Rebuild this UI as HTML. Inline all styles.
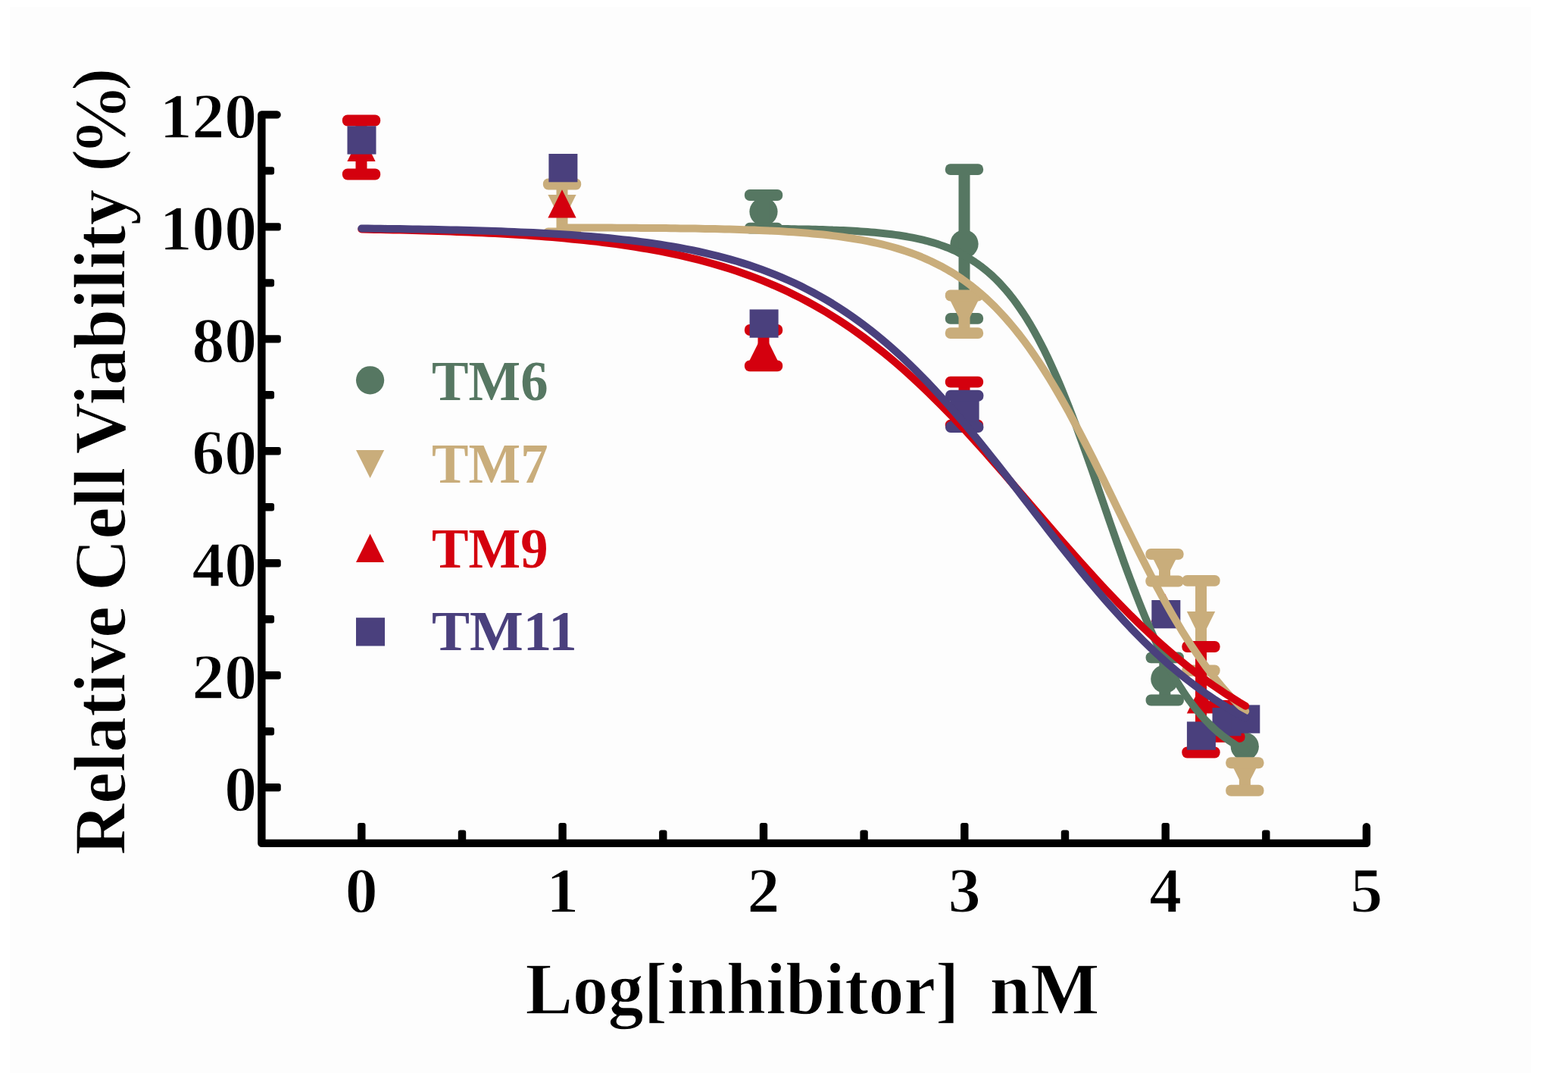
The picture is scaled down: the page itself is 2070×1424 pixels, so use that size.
<!DOCTYPE html>
<html lang="en"><head><meta charset="utf-8"><title>Relative Cell Viability vs Log[inhibitor]</title>
<style>html,body{margin:0;padding:0;background:#fff;}body{width:2070px;height:1424px;overflow:hidden;}svg{display:block;}text{font-family:"Liberation Serif","DejaVu Serif",serif;font-weight:bold;}</style></head><body>
<svg width="2070" height="1424" viewBox="0 0 2070 1424">
<rect x="0" y="0" width="2070" height="1424" fill="#ffffff"/>
<rect x="13" y="9" width="2008" height="1407" fill="#fdfdfd"/>
<g id="green-points">
<circle cx="1008.0" cy="279.3" r="18.6" fill="#567762"/>
<circle cx="1273.0" cy="322.0" r="18.6" fill="#567762"/>
<circle cx="1537.8" cy="896.0" r="18.6" fill="#567762"/>
<circle cx="1643.3" cy="985.2" r="18.6" fill="#567762"/>
<rect x="1000.5" y="257.5" width="15.0" height="43.6" fill="#567762"/><rect x="982.9" y="250.1" width="50.3" height="14.9" rx="6.8" fill="#567762"/><rect x="982.9" y="293.7" width="50.3" height="14.9" rx="6.8" fill="#567762"/>
<rect x="1265.5" y="223.6" width="15.0" height="196.7" fill="#567762"/><rect x="1247.8" y="216.2" width="50.3" height="14.9" rx="6.8" fill="#567762"/><rect x="1247.8" y="412.9" width="50.3" height="14.9" rx="6.8" fill="#567762"/>
<rect x="1530.3" y="867.9" width="15.0" height="56.2" fill="#567762"/><rect x="1512.6" y="860.4" width="50.3" height="14.9" rx="6.8" fill="#567762"/><rect x="1512.6" y="916.6" width="50.3" height="14.9" rx="6.8" fill="#567762"/>
</g>
<g id="tan-points">
<path d="M742.0,294.1L760.6,256.9H723.4Z" fill="#c9ad7b"/>
<path d="M1273.0,433.4L1291.7,396.2H1254.3Z" fill="#c9ad7b"/>
<path d="M1537.5,767.6L1556.2,730.4H1518.8Z" fill="#c9ad7b"/>
<path d="M1585.5,844.4L1604.2,807.1H1566.8Z" fill="#c9ad7b"/>
<path d="M1643.4,1043.7L1662.1,1006.4H1624.8Z" fill="#c9ad7b"/>
<rect x="734.5" y="243.0" width="15.0" height="65.0" fill="#c9ad7b"/><rect x="716.9" y="235.6" width="50.3" height="14.9" rx="6.8" fill="#c9ad7b"/><rect x="716.9" y="300.6" width="50.3" height="14.9" rx="6.8" fill="#c9ad7b"/>
<rect x="1265.5" y="390.0" width="15.0" height="49.7" fill="#c9ad7b"/><rect x="1247.8" y="382.6" width="50.3" height="14.9" rx="6.8" fill="#c9ad7b"/><rect x="1247.8" y="432.2" width="50.3" height="14.9" rx="6.8" fill="#c9ad7b"/>
<rect x="1530.0" y="731.4" width="15.0" height="35.6" fill="#c9ad7b"/><rect x="1512.3" y="723.9" width="50.3" height="14.9" rx="6.8" fill="#c9ad7b"/><rect x="1512.3" y="759.5" width="50.3" height="14.9" rx="6.8" fill="#c9ad7b"/>
<rect x="1578.0" y="766.4" width="15.0" height="118.6" fill="#c9ad7b"/><rect x="1560.3" y="758.9" width="50.3" height="14.9" rx="6.8" fill="#c9ad7b"/><rect x="1560.3" y="877.5" width="50.3" height="14.9" rx="6.8" fill="#c9ad7b"/>
<rect x="1635.9" y="1006.8" width="15.0" height="36.5" fill="#c9ad7b"/><rect x="1618.2" y="999.3" width="50.3" height="14.9" rx="6.8" fill="#c9ad7b"/><rect x="1618.2" y="1035.8" width="50.3" height="14.9" rx="6.8" fill="#c9ad7b"/>
</g>
<g id="red-points">
<path d="M477.0,175.7L495.6,213.0H458.4Z" fill="#d4000e"/>
<path d="M742.0,250.3L760.6,287.6H723.4Z" fill="#d4000e"/>
<path d="M1008.0,438.7L1026.7,475.9H989.4Z" fill="#d4000e"/>
<path d="M1273.0,514.1L1291.7,551.4H1254.3Z" fill="#d4000e"/>
<path d="M1538.0,783.4L1556.7,820.6H1519.3Z" fill="#d4000e"/>
<path d="M1585.5,904.4L1604.2,941.6H1566.8Z" fill="#d4000e"/>
<path d="M1618.5,933.4L1637.2,970.6H1599.8Z" fill="#d4000e"/>
<rect x="469.5" y="159.0" width="15.0" height="70.9" fill="#d4000e"/><rect x="451.9" y="151.6" width="50.3" height="14.9" rx="6.8" fill="#d4000e"/><rect x="451.9" y="222.5" width="50.3" height="14.9" rx="6.8" fill="#d4000e"/>
<rect x="1000.5" y="435.5" width="15.0" height="47.3" fill="#d4000e"/><rect x="982.9" y="428.1" width="50.3" height="14.9" rx="6.8" fill="#d4000e"/><rect x="982.9" y="475.4" width="50.3" height="14.9" rx="6.8" fill="#d4000e"/>
<rect x="1265.5" y="504.1" width="15.0" height="57.2" fill="#d4000e"/><rect x="1247.8" y="496.7" width="50.3" height="14.9" rx="6.8" fill="#d4000e"/><rect x="1247.8" y="553.8" width="50.3" height="14.9" rx="6.8" fill="#d4000e"/>
<rect x="1578.0" y="853.5" width="15.0" height="139.5" fill="#d4000e"/><rect x="1560.3" y="846.0" width="50.3" height="14.9" rx="6.8" fill="#d4000e"/><rect x="1560.3" y="985.5" width="50.3" height="14.9" rx="6.8" fill="#d4000e"/>
<rect x="1611.0" y="931.5" width="15.0" height="40.9" fill="#d4000e"/><rect x="1593.3" y="924.0" width="50.3" height="14.9" rx="6.8" fill="#d4000e"/><rect x="1593.3" y="964.9" width="50.3" height="14.9" rx="6.8" fill="#d4000e"/>
</g>
<g id="purple-points">
<rect x="458.5" y="166.3" width="38.0" height="37.3" fill="#4a407d"/>
<rect x="724.4" y="203.0" width="38.0" height="37.3" fill="#4a407d"/>
<rect x="989.6" y="408.4" width="38.0" height="37.3" fill="#4a407d"/>
<rect x="1254.6" y="524.4" width="38.0" height="37.3" fill="#4a407d"/>
<rect x="1520.3" y="792.0" width="38.0" height="37.3" fill="#4a407d"/>
<rect x="1566.9" y="952.4" width="38.0" height="37.3" fill="#4a407d"/>
<rect x="1600.5" y="934.0" width="38.0" height="37.3" fill="#4a407d"/>
<rect x="1625.3" y="930.4" width="38.0" height="37.3" fill="#4a407d"/>
<rect x="1265.8" y="522.2" width="15.0" height="41.5" fill="#4a407d"/><rect x="1248.1" y="514.8" width="50.3" height="14.9" rx="6.8" fill="#4a407d"/><rect x="1248.1" y="556.2" width="50.3" height="14.9" rx="6.8" fill="#4a407d"/>
</g>
<path id="green-fit" d="M1008.0,301.8 L1012.6,301.8 L1017.1,301.9 L1021.7,301.9 L1026.3,302.0 L1030.9,302.0 L1035.4,302.1 L1040.0,302.1 L1044.6,302.2 L1049.2,302.3 L1053.8,302.4 L1058.3,302.4 L1062.9,302.5 L1067.5,302.6 L1072.1,302.7 L1076.6,302.8 L1081.2,303.0 L1085.8,303.1 L1090.4,303.2 L1095.0,303.4 L1099.5,303.6 L1104.1,303.7 L1108.7,303.9 L1113.3,304.1 L1117.8,304.3 L1122.4,304.6 L1127.0,304.8 L1131.6,305.1 L1136.2,305.4 L1140.7,305.7 L1145.3,306.1 L1149.9,306.4 L1154.5,306.8 L1159.0,307.2 L1163.6,307.7 L1168.2,308.2 L1172.8,308.7 L1177.4,309.3 L1181.9,309.9 L1186.5,310.5 L1191.1,311.2 L1195.7,312.0 L1200.2,312.8 L1204.8,313.7 L1209.4,314.6 L1214.0,315.6 L1218.5,316.7 L1223.1,317.8 L1227.7,319.1 L1232.3,320.4 L1236.9,321.8 L1241.4,323.4 L1246.0,325.0 L1250.6,326.7 L1255.2,328.6 L1259.7,330.6 L1264.3,332.8 L1268.9,335.1 L1273.5,337.5 L1278.1,340.2 L1282.6,343.0 L1287.2,346.0 L1291.8,349.2 L1296.4,352.6 L1300.9,356.2 L1305.5,360.0 L1310.1,364.1 L1314.7,368.5 L1319.3,373.1 L1323.8,378.1 L1328.4,383.3 L1333.0,388.8 L1337.6,394.6 L1342.1,400.8 L1346.7,407.3 L1351.3,414.1 L1355.9,421.3 L1360.5,428.9 L1365.0,436.8 L1369.6,445.1 L1374.2,453.8 L1378.8,462.8 L1383.3,472.2 L1387.9,482.1 L1392.5,492.2 L1397.1,502.8 L1401.7,513.6 L1406.2,524.8 L1410.8,536.4 L1415.4,548.2 L1420.0,560.3 L1424.5,572.7 L1429.1,585.3 L1433.7,598.1 L1438.3,611.1 L1442.9,624.2 L1447.4,637.4 L1452.0,650.6 L1456.6,664.0 L1461.2,677.3 L1465.7,690.5 L1470.3,703.7 L1474.9,716.8 L1479.5,729.7 L1484.0,742.5 L1488.6,755.0 L1493.2,767.3 L1497.8,779.4 L1502.4,791.2 L1506.9,802.6 L1511.5,813.8 L1516.1,824.6 L1520.7,835.0 L1525.2,845.1 L1529.8,854.9 L1534.4,864.2 L1539.0,873.2 L1543.6,881.8 L1548.1,890.0 L1552.7,897.9 L1557.3,905.3 L1561.9,912.5 L1566.4,919.2 L1571.0,925.6 L1575.6,931.7 L1580.2,937.5 L1584.8,942.9 L1589.3,948.1 L1593.9,952.9 L1598.5,957.5 L1603.1,961.8 L1607.6,965.9 L1612.2,969.7 L1616.8,973.2 L1621.4,976.6 L1626.0,979.7 L1630.5,982.7 L1635.1,985.5 L1639.7,988.0 L1644.3,990.5" stroke="#567762" stroke-width="10.0" fill="none" stroke-linecap="round" stroke-linejoin="round"/>
<path id="tan-fit" d="M742.6,300.4 L749.1,300.4 L755.6,300.4 L762.1,300.5 L768.6,300.5 L775.1,300.5 L781.6,300.5 L788.0,300.5 L794.5,300.6 L801.0,300.6 L807.5,300.6 L814.0,300.7 L820.5,300.7 L827.0,300.7 L833.5,300.8 L839.9,300.8 L846.4,300.9 L852.9,300.9 L859.4,301.0 L865.9,301.0 L872.4,301.1 L878.9,301.1 L885.3,301.2 L891.8,301.3 L898.3,301.4 L904.8,301.5 L911.3,301.5 L917.8,301.6 L924.3,301.8 L930.7,301.9 L937.2,302.0 L943.7,302.1 L950.2,302.3 L956.7,302.4 L963.2,302.6 L969.7,302.8 L976.2,303.0 L982.6,303.2 L989.1,303.4 L995.6,303.6 L1002.1,303.9 L1008.6,304.2 L1015.1,304.5 L1021.6,304.8 L1028.0,305.1 L1034.5,305.5 L1041.0,305.9 L1047.5,306.3 L1054.0,306.8 L1060.5,307.3 L1067.0,307.8 L1073.5,308.4 L1079.9,309.0 L1086.4,309.6 L1092.9,310.3 L1099.4,311.1 L1105.9,311.9 L1112.4,312.8 L1118.9,313.7 L1125.3,314.7 L1131.8,315.8 L1138.3,316.9 L1144.8,318.2 L1151.3,319.5 L1157.8,320.9 L1164.3,322.4 L1170.7,324.0 L1177.2,325.8 L1183.7,327.6 L1190.2,329.6 L1196.7,331.7 L1203.2,334.0 L1209.7,336.4 L1216.2,339.0 L1222.6,341.8 L1229.1,344.7 L1235.6,347.9 L1242.1,351.2 L1248.6,354.8 L1255.1,358.6 L1261.6,362.6 L1268.0,366.9 L1274.5,371.5 L1281.0,376.3 L1287.5,381.4 L1294.0,386.8 L1300.5,392.5 L1307.0,398.6 L1313.5,404.9 L1319.9,411.6 L1326.4,418.7 L1332.9,426.1 L1339.4,433.9 L1345.9,442.0 L1352.4,450.5 L1358.9,459.4 L1365.3,468.6 L1371.8,478.3 L1378.3,488.3 L1384.8,498.6 L1391.3,509.3 L1397.8,520.4 L1404.3,531.7 L1410.8,543.4 L1417.2,555.4 L1423.7,567.6 L1430.2,580.1 L1436.7,592.8 L1443.2,605.6 L1449.7,618.7 L1456.2,631.8 L1462.6,645.0 L1469.1,658.3 L1475.6,671.7 L1482.1,685.0 L1488.6,698.2 L1495.1,711.4 L1501.6,724.4 L1508.0,737.3 L1514.5,750.0 L1521.0,762.5 L1527.5,774.8 L1534.0,786.8 L1540.5,798.5 L1547.0,810.0 L1553.5,821.0 L1559.9,831.8 L1566.4,842.2 L1572.9,852.3 L1579.4,861.9 L1585.9,871.2 L1592.4,880.2 L1598.9,888.7 L1605.3,896.9 L1611.8,904.8 L1618.3,912.2 L1624.8,919.3 L1631.3,926.1 L1637.8,932.5 L1644.3,938.6" stroke="#c9ad7b" stroke-width="10.0" fill="none" stroke-linecap="round" stroke-linejoin="round"/>
<path id="red-fit" d="M477.3,302.6 L485.7,302.7 L494.1,302.9 L502.5,303.0 L510.9,303.2 L519.3,303.4 L527.7,303.6 L536.1,303.8 L544.5,304.0 L552.9,304.2 L561.3,304.5 L569.6,304.7 L578.0,305.0 L586.4,305.3 L594.8,305.6 L603.2,305.9 L611.6,306.2 L620.0,306.6 L628.4,306.9 L636.8,307.3 L645.2,307.7 L653.6,308.1 L662.0,308.6 L670.4,309.1 L678.8,309.5 L687.2,310.1 L695.6,310.6 L704.0,311.2 L712.4,311.8 L720.8,312.5 L729.2,313.1 L737.6,313.8 L746.0,314.6 L754.3,315.4 L762.7,316.2 L771.1,317.1 L779.5,318.0 L787.9,318.9 L796.3,320.0 L804.7,321.0 L813.1,322.1 L821.5,323.3 L829.9,324.5 L838.3,325.8 L846.7,327.2 L855.1,328.6 L863.5,330.1 L871.9,331.7 L880.3,333.4 L888.7,335.1 L897.1,336.9 L905.5,338.8 L913.9,340.8 L922.3,342.9 L930.7,345.1 L939.0,347.5 L947.4,349.9 L955.8,352.4 L964.2,355.0 L972.6,357.8 L981.0,360.7 L989.4,363.7 L997.8,366.9 L1006.2,370.2 L1014.6,373.6 L1023.0,377.2 L1031.4,380.9 L1039.8,384.8 L1048.2,388.9 L1056.6,393.1 L1065.0,397.5 L1073.4,402.1 L1081.8,406.9 L1090.2,411.8 L1098.6,416.9 L1107.0,422.2 L1115.4,427.7 L1123.7,433.4 L1132.1,439.3 L1140.5,445.4 L1148.9,451.7 L1157.3,458.2 L1165.7,464.8 L1174.1,471.7 L1182.5,478.8 L1190.9,486.1 L1199.3,493.6 L1207.7,501.2 L1216.1,509.1 L1224.5,517.1 L1232.9,525.3 L1241.3,533.7 L1249.7,542.2 L1258.1,550.9 L1266.5,559.7 L1274.9,568.7 L1283.3,577.9 L1291.7,587.1 L1300.1,596.4 L1308.4,605.9 L1316.8,615.4 L1325.2,625.0 L1333.6,634.7 L1342.0,644.4 L1350.4,654.2 L1358.8,663.9 L1367.2,673.7 L1375.6,683.5 L1384.0,693.3 L1392.4,703.0 L1400.8,712.7 L1409.2,722.3 L1417.6,731.8 L1426.0,741.3 L1434.4,750.7 L1442.8,759.9 L1451.2,769.1 L1459.6,778.1 L1468.0,786.9 L1476.4,795.7 L1484.8,804.2 L1493.1,812.7 L1501.5,820.9 L1509.9,829.0 L1518.3,836.8 L1526.7,844.5 L1535.1,852.0 L1543.5,859.3 L1551.9,866.5 L1560.3,873.4 L1568.7,880.1 L1577.1,886.6 L1585.5,892.9 L1593.9,899.1 L1602.3,905.0 L1610.7,910.7 L1619.1,916.3 L1627.5,921.6 L1635.9,926.8 L1644.3,931.7" stroke="#d4000e" stroke-width="10.0" fill="none" stroke-linecap="round" stroke-linejoin="round"/>
<path id="purple-fit" d="M477.3,301.5 L485.7,301.6 L494.1,301.7 L502.5,301.8 L510.9,301.9 L519.3,302.0 L527.7,302.1 L536.1,302.3 L544.5,302.4 L552.9,302.5 L561.3,302.7 L569.6,302.8 L578.0,303.0 L586.4,303.2 L594.8,303.4 L603.2,303.6 L611.6,303.8 L620.0,304.0 L628.4,304.2 L636.8,304.5 L645.2,304.8 L653.6,305.0 L662.0,305.3 L670.4,305.7 L678.8,306.0 L687.2,306.4 L695.6,306.7 L704.0,307.1 L712.4,307.6 L720.8,308.0 L729.2,308.5 L737.6,309.0 L746.0,309.5 L754.3,310.1 L762.7,310.7 L771.1,311.4 L779.5,312.0 L787.9,312.8 L796.3,313.5 L804.7,314.3 L813.1,315.2 L821.5,316.1 L829.9,317.0 L838.3,318.0 L846.7,319.1 L855.1,320.2 L863.5,321.4 L871.9,322.7 L880.3,324.1 L888.7,325.5 L897.1,327.0 L905.5,328.6 L913.9,330.2 L922.3,332.0 L930.7,333.9 L939.0,335.8 L947.4,337.9 L955.8,340.1 L964.2,342.4 L972.6,344.8 L981.0,347.4 L989.4,350.1 L997.8,352.9 L1006.2,355.9 L1014.6,359.1 L1023.0,362.4 L1031.4,365.9 L1039.8,369.5 L1048.2,373.3 L1056.6,377.3 L1065.0,381.6 L1073.4,386.0 L1081.8,390.6 L1090.2,395.4 L1098.6,400.4 L1107.0,405.7 L1115.4,411.2 L1123.7,416.9 L1132.1,422.9 L1140.5,429.1 L1148.9,435.5 L1157.3,442.2 L1165.7,449.1 L1174.1,456.3 L1182.5,463.8 L1190.9,471.4 L1199.3,479.4 L1207.7,487.5 L1216.1,496.0 L1224.5,504.6 L1232.9,513.5 L1241.3,522.6 L1249.7,531.9 L1258.1,541.4 L1266.5,551.2 L1274.9,561.1 L1283.3,571.2 L1291.7,581.4 L1300.1,591.8 L1308.4,602.3 L1316.8,612.9 L1325.2,623.6 L1333.6,634.4 L1342.0,645.2 L1350.4,656.1 L1358.8,667.0 L1367.2,677.9 L1375.6,688.8 L1384.0,699.6 L1392.4,710.4 L1400.8,721.1 L1409.2,731.7 L1417.6,742.2 L1426.0,752.5 L1434.4,762.8 L1442.8,772.8 L1451.2,782.7 L1459.6,792.4 L1468.0,801.9 L1476.4,811.2 L1484.8,820.3 L1493.1,829.2 L1501.5,837.8 L1509.9,846.2 L1518.3,854.4 L1526.7,862.3 L1535.1,870.0 L1543.5,877.4 L1551.9,884.5 L1560.3,891.5 L1568.7,898.1 L1577.1,904.5 L1585.5,910.7 L1593.9,916.7 L1602.3,922.4 L1610.7,927.8 L1619.1,933.1 L1627.5,938.1 L1635.9,942.9 L1644.3,947.5" stroke="#4a407d" stroke-width="10.0" fill="none" stroke-linecap="round" stroke-linejoin="round"/>
<g id="axes" stroke="#000" stroke-width="10.4" fill="none" stroke-linecap="round" stroke-linejoin="round">
<path d="M365.6,151.4H345.4V1112.9H1804.0V1091.3"/>
</g><g id="ticks" fill="#000">
<rect x="345.4" y="1034.0" width="25.4" height="10.4" rx="3.0"/>
<rect x="345.4" y="886.0" width="25.4" height="10.4" rx="3.0"/>
<rect x="345.4" y="738.1" width="25.4" height="10.4" rx="3.0"/>
<rect x="345.4" y="590.1" width="25.4" height="10.4" rx="3.0"/>
<rect x="345.4" y="442.2" width="25.4" height="10.4" rx="3.0"/>
<rect x="345.4" y="294.2" width="25.4" height="10.4" rx="3.0"/>
<rect x="345.4" y="960.0" width="16.7" height="10.4" rx="3.0"/>
<rect x="345.4" y="812.1" width="16.7" height="10.4" rx="3.0"/>
<rect x="345.4" y="664.1" width="16.7" height="10.4" rx="3.0"/>
<rect x="345.4" y="516.1" width="16.7" height="10.4" rx="3.0"/>
<rect x="345.4" y="368.2" width="16.7" height="10.4" rx="3.0"/>
<rect x="345.4" y="220.2" width="16.7" height="10.4" rx="3.0"/>
<rect x="472.1" y="1086.0" width="10.4" height="26.9" rx="3.0"/>
<rect x="737.4" y="1086.0" width="10.4" height="26.9" rx="3.0"/>
<rect x="1002.8" y="1086.0" width="10.4" height="26.9" rx="3.0"/>
<rect x="1268.1" y="1086.0" width="10.4" height="26.9" rx="3.0"/>
<rect x="1533.5" y="1086.0" width="10.4" height="26.9" rx="3.0"/>
<rect x="604.8" y="1095.6" width="10.4" height="17.3" rx="3.0"/>
<rect x="870.1" y="1095.6" width="10.4" height="17.3" rx="3.0"/>
<rect x="1135.4" y="1095.6" width="10.4" height="17.3" rx="3.0"/>
<rect x="1400.8" y="1095.6" width="10.4" height="17.3" rx="3.0"/>
<rect x="1666.1" y="1095.6" width="10.4" height="17.3" rx="3.0"/>
</g>
<g id="y-tick-labels">
<text transform="translate(339.2,1070.0) scale(1.0038,1.0000)" font-size="85.4" text-anchor="end" fill="#000" stroke="#fdfdfd" stroke-width="1.3" stroke-linejoin="round" xml:space="preserve">0</text>
<text transform="translate(339.2,922.0) scale(1.0038,1.0000)" font-size="85.4" text-anchor="end" fill="#000" stroke="#fdfdfd" stroke-width="1.3" stroke-linejoin="round" xml:space="preserve">20</text>
<text transform="translate(339.2,774.1) scale(1.0038,1.0000)" font-size="85.4" text-anchor="end" fill="#000" stroke="#fdfdfd" stroke-width="1.3" stroke-linejoin="round" xml:space="preserve">40</text>
<text transform="translate(339.2,626.1) scale(1.0038,1.0000)" font-size="85.4" text-anchor="end" fill="#000" stroke="#fdfdfd" stroke-width="1.3" stroke-linejoin="round" xml:space="preserve">60</text>
<text transform="translate(339.2,478.2) scale(1.0038,1.0000)" font-size="85.4" text-anchor="end" fill="#000" stroke="#fdfdfd" stroke-width="1.3" stroke-linejoin="round" xml:space="preserve">80</text>
<text transform="translate(339.2,330.2) scale(1.0038,1.0000)" font-size="85.4" text-anchor="end" fill="#000" stroke="#fdfdfd" stroke-width="1.3" stroke-linejoin="round" xml:space="preserve">100</text>
<text transform="translate(339.2,182.2) scale(1.0038,1.0000)" font-size="85.4" text-anchor="end" fill="#000" stroke="#fdfdfd" stroke-width="1.3" stroke-linejoin="round" xml:space="preserve">120</text>
</g><g id="x-tick-labels">
<text transform="translate(477.3,1204.0) scale(1.0038,1.0000)" font-size="85.4" text-anchor="middle" fill="#000" stroke="#fdfdfd" stroke-width="1.3" stroke-linejoin="round" xml:space="preserve">0</text>
<text transform="translate(742.6,1204.0) scale(1.0038,1.0000)" font-size="85.4" text-anchor="middle" fill="#000" stroke="#fdfdfd" stroke-width="1.3" stroke-linejoin="round" xml:space="preserve">1</text>
<text transform="translate(1008.0,1204.0) scale(1.0038,1.0000)" font-size="85.4" text-anchor="middle" fill="#000" stroke="#fdfdfd" stroke-width="1.3" stroke-linejoin="round" xml:space="preserve">2</text>
<text transform="translate(1273.3,1204.0) scale(1.0038,1.0000)" font-size="85.4" text-anchor="middle" fill="#000" stroke="#fdfdfd" stroke-width="1.3" stroke-linejoin="round" xml:space="preserve">3</text>
<text transform="translate(1538.7,1204.0) scale(1.0038,1.0000)" font-size="85.4" text-anchor="middle" fill="#000" stroke="#fdfdfd" stroke-width="1.3" stroke-linejoin="round" xml:space="preserve">4</text>
<text transform="translate(1804.0,1204.0) scale(1.0038,1.0000)" font-size="85.4" text-anchor="middle" fill="#000" stroke="#fdfdfd" stroke-width="1.3" stroke-linejoin="round" xml:space="preserve">5</text>
</g>
<text id="y-axis-title" transform="translate(164.6,0) rotate(-90)" font-size="98.3" fill="#000" stroke="#fdfdfd" stroke-width="1.3" stroke-linejoin="round" xml:space="preserve"><tspan x="-1128.6" y="0.0" textLength="352.03" lengthAdjust="spacingAndGlyphs">Relative </tspan><tspan x="-780.0" y="0.0" textLength="187.20" lengthAdjust="spacingAndGlyphs">Cell </tspan><tspan x="-599.6" y="0.0" textLength="373.48" lengthAdjust="spacingAndGlyphs">Viability </tspan><tspan x="-226.4" y="-9.2" font-size="86.21" textLength="29.59" lengthAdjust="spacingAndGlyphs">(</tspan><tspan x="-204.9" y="0.0" textLength="94.17" lengthAdjust="spacingAndGlyphs">%</tspan><tspan x="-119.4" y="-9.2" font-size="86.21" textLength="29.59" lengthAdjust="spacingAndGlyphs">)</tspan></text>
<text id="x-axis-title" y="1337.9" font-size="98.3" fill="#000" stroke="#fdfdfd" stroke-width="1.3" stroke-linejoin="round" xml:space="preserve"><tspan x="693.4" textLength="619.73" lengthAdjust="spacingAndGlyphs">Log[inhibitor]  </tspan><tspan x="1306.4" textLength="145.04" lengthAdjust="spacingAndGlyphs">nM</tspan></text>
<g id="legend">
<circle cx="488.6" cy="501.8" r="18.6" fill="#567762"/>
<path d="M488.6,631.1L507.2,593.9H470.0Z" fill="#c9ad7b"/>
<path d="M488.6,704.6L507.2,741.9H470.0Z" fill="#d4000e"/>
<rect x="470.0" y="815.2" width="38.0" height="37.3" fill="#4a407d"/>
<text transform="translate(570.0,528.0) scale(0.9700,1.0000)" font-size="75" text-anchor="start" fill="#567762" xml:space="preserve">TM6</text>
<text transform="translate(570.0,637.0) scale(0.9700,1.0000)" font-size="75" text-anchor="start" fill="#c9ad7b" xml:space="preserve">TM7</text>
<text transform="translate(570.0,748.6) scale(0.9700,1.0000)" font-size="75" text-anchor="start" fill="#d4000e" xml:space="preserve">TM9</text>
<text transform="translate(570.0,857.6)" font-size="75" text-anchor="start" fill="#4a407d" xml:space="preserve">TM11</text>
</g>
</svg></body></html>
